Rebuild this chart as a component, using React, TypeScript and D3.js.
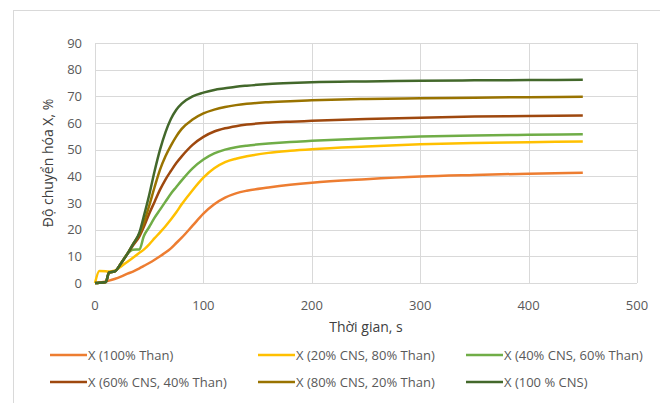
import React from 'react';
import * as d3 from 'd3';

const W = 660;
const H = 403;

const times = [0, 4, 10, 13, 18, 25, 30, 35, 41, 45, 50, 55, 60, 65, 70, 75, 80, 90, 100, 110, 120, 130, 140, 160, 180, 200, 250, 300, 350, 400, 450];

const than100 = [0, 0.2, 0.6, 0.9, 1.5, 2.6, 3.5, 4.3, 5.5, 6.4, 7.5, 8.7, 10, 11.4, 13, 15, 17, 21.5, 26, 29.5, 32, 33.6, 34.6, 35.8, 36.8, 37.6, 38.9, 39.9, 40.5, 41, 41.3];
const cns20 = [0, 4.5, 4.4, 4.3, 4.6, 6.5, 8, 9.5, 11.3, 12.5, 14.5, 16.8, 19, 21.3, 23.8, 26.5, 29.5, 34.8, 39.5, 43, 45.3, 46.6, 47.5, 48.8, 49.6, 50.2, 51.2, 52, 52.5, 52.8, 53.1];
const cns40 = [0, 0.1, 0.4, 4, 4.3, 8, 11, 12.5, 12.6, 17.5, 21, 24.5, 27.5, 30.5, 33.5, 36, 38.5, 43, 46.3, 48.6, 50, 50.9, 51.5, 52.3, 52.9, 53.3, 54.2, 54.9, 55.3, 55.6, 55.8];
const cns60 = [0, 0.1, 0.4, 4, 4.3, 8, 11, 14, 17.5, 21, 26, 30.5, 35, 38.8, 42, 45, 47.5, 51.8, 54.8, 56.8, 58, 58.8, 59.4, 60.1, 60.5, 60.8, 61.5, 62, 62.4, 62.6, 62.8];
const cns80 = [0, 0.1, 0.4, 4, 4.3, 8, 11, 14.5, 18.5, 22.5, 29, 36, 42.5, 47.5, 51.5, 55, 57.8, 61.3, 63.6, 65, 66, 66.7, 67.2, 67.8, 68.2, 68.5, 69, 69.3, 69.5, 69.7, 69.8];
const cns100 = [0, 0.1, 0.4, 4, 4.3, 8, 11, 14.5, 19, 25, 33, 42, 50, 56.5, 61.5, 65, 67.3, 70, 71.4, 72.4, 73, 73.6, 74, 74.6, 75, 75.3, 75.6, 75.8, 76, 76.1, 76.2];

const seriesNames = ['X (100% Than)', 'X (20% CNS, 80% Than)', 'X (40% CNS, 60% Than)', 'X (60% CNS, 40% Than)', 'X (80% CNS, 20% Than)', 'X (100 % CNS)'];
const seriesValues = [than100, cns20, cns40, cns60, cns80, cns100];
const colors = ['#ED7D31', '#FFC000', '#70AD47', '#9E480E', '#997300', '#43682B'];

const xTicks = [0, 100, 200, 300, 400, 500];
const yTicks = [0, 10, 20, 30, 40, 50, 60, 70, 80, 90];

const font = '"Open Sans", sans-serif';
const textColor = '#595959';

export default function App() {
  const x = d3.scaleLinear().domain([0, 500]).range([95, 637]);
  const y = d3.scaleLinear().domain([0, 90]).range([283, 43]);

  const line = d3
    .line<number>()
    .x((d, i) => x(times[i]))
    .y(d => y(d))
    .curve(d3.curveMonotoneX);

  // legend: 3 per row
  const legendX = [50, 258, 466];
  const legendY = [355, 382];

  return (
    <svg width={W} height={H} style={{ position: 'absolute', left: 0, top: 0, background: '#fff' }}>
      <rect x={13.5} y={10.5} width={700} height={500} fill="none" stroke="#d9d9d9" />

      {yTicks.map(t => (
        <line key={'gy' + t} x1={95} x2={637} y1={Math.round(y(t)) + 0.5} y2={Math.round(y(t)) + 0.5} stroke="#d9d9d9" />
      ))}
      {xTicks.map(t => (
        <line key={'gx' + t} x1={Math.round(x(t)) + 0.5} x2={Math.round(x(t)) + 0.5} y1={43} y2={283} stroke="#d9d9d9" />
      ))}

      {yTicks.map(t => (
        <text key={'ty' + t} x={82} y={y(t)} dy="0.35em" textAnchor="end" fontFamily={font} fontSize={13} fill={textColor}>
          {t}
        </text>
      ))}
      {xTicks.map(t => (
        <text key={'tx' + t} x={x(t)} y={310} textAnchor="middle" fontFamily={font} fontSize={13} fill={textColor}>
          {t}
        </text>
      ))}

      <text x={366} y={332} textAnchor="middle" fontFamily={font} fontSize={14} fill="#404040">
        Thời gian, s
      </text>
      <text transform="translate(53,163) rotate(-90)" textAnchor="middle" fontFamily={font} fontSize={14} fill="#404040">
        Độ chuyển hóa X, %
      </text>

      {seriesValues.map((vals, i) => (
        <path key={'s' + i} d={line(vals) || ''} fill="none" stroke={colors[i]} strokeWidth={2.5} strokeLinejoin="round" />
      ))}

      {seriesNames.map((name, i) => {
        const lx = legendX[i % 3];
        const ly = legendY[Math.floor(i / 3)];
        return (
          <g key={'l' + i}>
            <line x1={lx} x2={lx + 37} y1={ly} y2={ly} stroke={colors[i]} strokeWidth={2.5} />
            <text x={lx + 38} y={ly} dy="0.35em" fontFamily={font} fontSize={13} fill={textColor}>
              {name}
            </text>
          </g>
        );
      })}
    </svg>
  );
}
